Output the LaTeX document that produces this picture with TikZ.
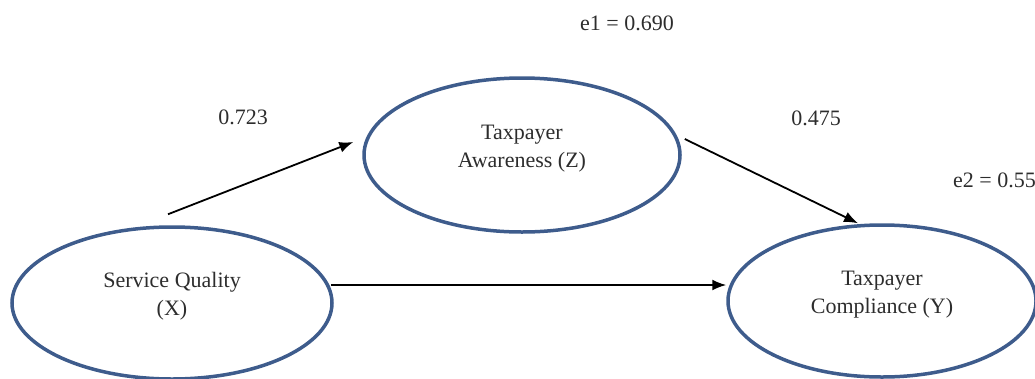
\documentclass[tikz,border=0pt]{standalone}
\usepackage{fontspec}
\setmainfont{Liberation Serif}
\usepackage{tikz}
\usetikzlibrary{shapes.geometric,arrows.meta}
\definecolor{ovalblue}{RGB}{62,92,140}
\definecolor{labelgray}{RGB}{45,45,45}

\begin{document}
\begin{tikzpicture}[x=1pt,y=-1pt,
        font=\fontsize{22pt}{28pt}\selectfont,
        construct/.style={ellipse,draw=ovalblue,line width=3.5pt,align=center,
            text=labelgray,inner sep=0pt,text height=42pt,text depth=18pt},
        coef/.style={text=labelgray,inner sep=0pt},
        path/.style={line width=1.8pt,-{Latex[length=14pt,width=11pt]}}]
        \useasboundingbox (0,0) rectangle (1035,378);
        \clip (0,0) rectangle (1035,378);

        \node[construct,minimum width=320pt,minimum height=152pt] (X) at (172,303) {Service Quality\\(X)};
        \node[construct,minimum width=316pt,minimum height=154pt] (Z) at (522,155) {Taxpayer\\Awareness (Z)};
        \node[construct,minimum width=308pt,minimum height=152pt] (Y) at (882,301) {Taxpayer\\Compliance (Y)};

        \draw[path] ([xshift=-4pt,yshift=11pt]X.north) -- ([xshift=-9pt,yshift=13pt]Z.west);
        \draw[path] ([xshift=-3pt,yshift=18pt]X.east) -- ([yshift=16pt]Y.west);
        \draw[path] ([xshift=3pt,yshift=16pt]Z.east) -- ([xshift=-24pt]Y.north);

        \node[coef] (cXZ) at (243,117) {0.723};
        \node[coef] (cZY) at (816,118) {0.475};
        \node[coef] (e1) at (627,23) {e1 = 0.690};
        \node[coef,anchor=west] (e2) at (953,180) {e2 = 0.554};

    \end{tikzpicture}
\end{document}
